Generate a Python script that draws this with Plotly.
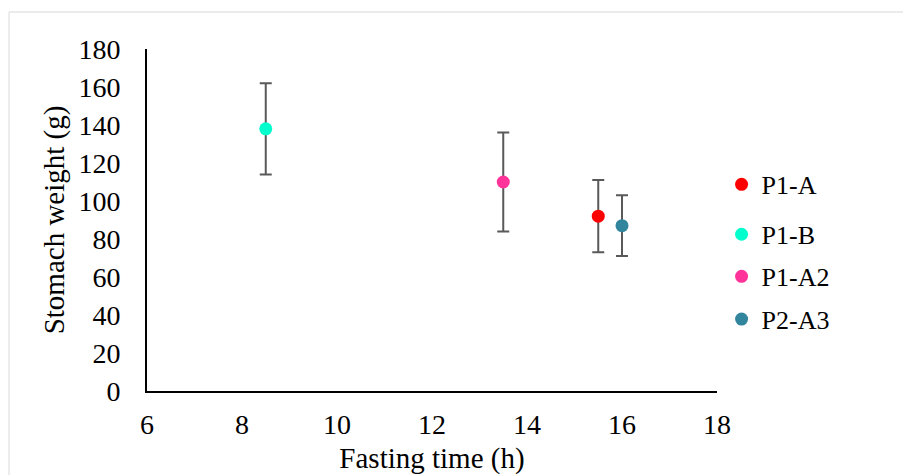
import plotly.graph_objects as go

# Stomach weight vs fasting time, mean ± SD per group
groups = ["P1-A", "P1-B", "P1-A2", "P2-A3"]
fasting_h = [15.5, 8.5, 13.5, 16.0]
weight_g = [92, 138, 110, 87]
weight_sd = [19, 24, 26, 16]
colors = ["#FF0000", "#00FFCC", "#FF3399", "#31859C"]

x_ticks = [6, 8, 10, 12, 14, 16, 18]
y_ticks = [0, 20, 40, 60, 80, 100, 120, 140, 160, 180]

FONT = "Liberation Serif, Times New Roman, serif"

fig = go.Figure()
legend_ids = ["legend", "legend2", "legend3", "legend4"]
for name, x, y, sd, c, lg in zip(groups, fasting_h, weight_g, weight_sd, colors, legend_ids):
    fig.add_trace(go.Scatter(
        x=[x], y=[y], name=name, mode="markers",
        marker=dict(color=c, size=13, line=dict(width=0)),
        error_y=dict(type="data", array=[sd], visible=True,
                     color="#595959", thickness=2, width=6),
        legend=lg, showlegend=True,
    ))

# Legend entries placed individually on the right side
legend_y = [0.604, 0.458, 0.335, 0.21]
leg_common = dict(x=1.008, xanchor="left", yanchor="middle",
                  font=dict(family=FONT, size=26, color="#000000"),
                  bgcolor="rgba(0,0,0,0)", borderwidth=0, itemsizing="trace")

fig.update_layout(
    width=903, height=475,
    margin=dict(l=147, r=186, t=49, b=84),
    showlegend=True,
    paper_bgcolor="#FFFFFF", plot_bgcolor="#FFFFFF",
    font=dict(family=FONT, color="#000000"),
    xaxis=dict(
        range=[6, 18], tickvals=x_ticks, ticktext=[str(v) for v in x_ticks],
        showgrid=False, zeroline=False, showline=True, linecolor="#000000", linewidth=2,
        ticks="", ticklabelstandoff=7, automargin=False,
        tickfont=dict(family=FONT, size=28, color="#000000"),
        title=dict(text="Fasting time (h)", standoff=21,
                   font=dict(family=FONT, size=29, color="#000000")),
    ),
    yaxis=dict(
        range=[0, 180], tickvals=y_ticks, ticktext=[str(v) for v in y_ticks],
        showgrid=False, zeroline=False, showline=True, linecolor="#000000", linewidth=2,
        ticks="", ticklabelstandoff=19, automargin=False,
        tickfont=dict(family=FONT, size=28, color="#000000"),
        title=dict(text="Stomach weight (g)", standoff=5,
                   font=dict(family=FONT, size=29, color="#000000")),
    ),
    legend=dict(y=legend_y[0], **leg_common),
    legend2=dict(y=legend_y[1], **leg_common),
    legend3=dict(y=legend_y[2], **leg_common),
    legend4=dict(y=legend_y[3], **leg_common),
    shapes=[
        # chart-area frame (top and left edges)
        dict(type="line", xref="paper", yref="paper", x0=-0.2421, x1=1.4, y0=1.1082, y1=1.1082,
             line=dict(color="#D9D9D9", width=1)),
        dict(type="line", xref="paper", yref="paper", x0=-0.2421, x1=-0.2421, y0=1.1082, y1=-0.3,
             line=dict(color="#D9D9D9", width=1)),
    ],
)

fig.write_html("out.html")
